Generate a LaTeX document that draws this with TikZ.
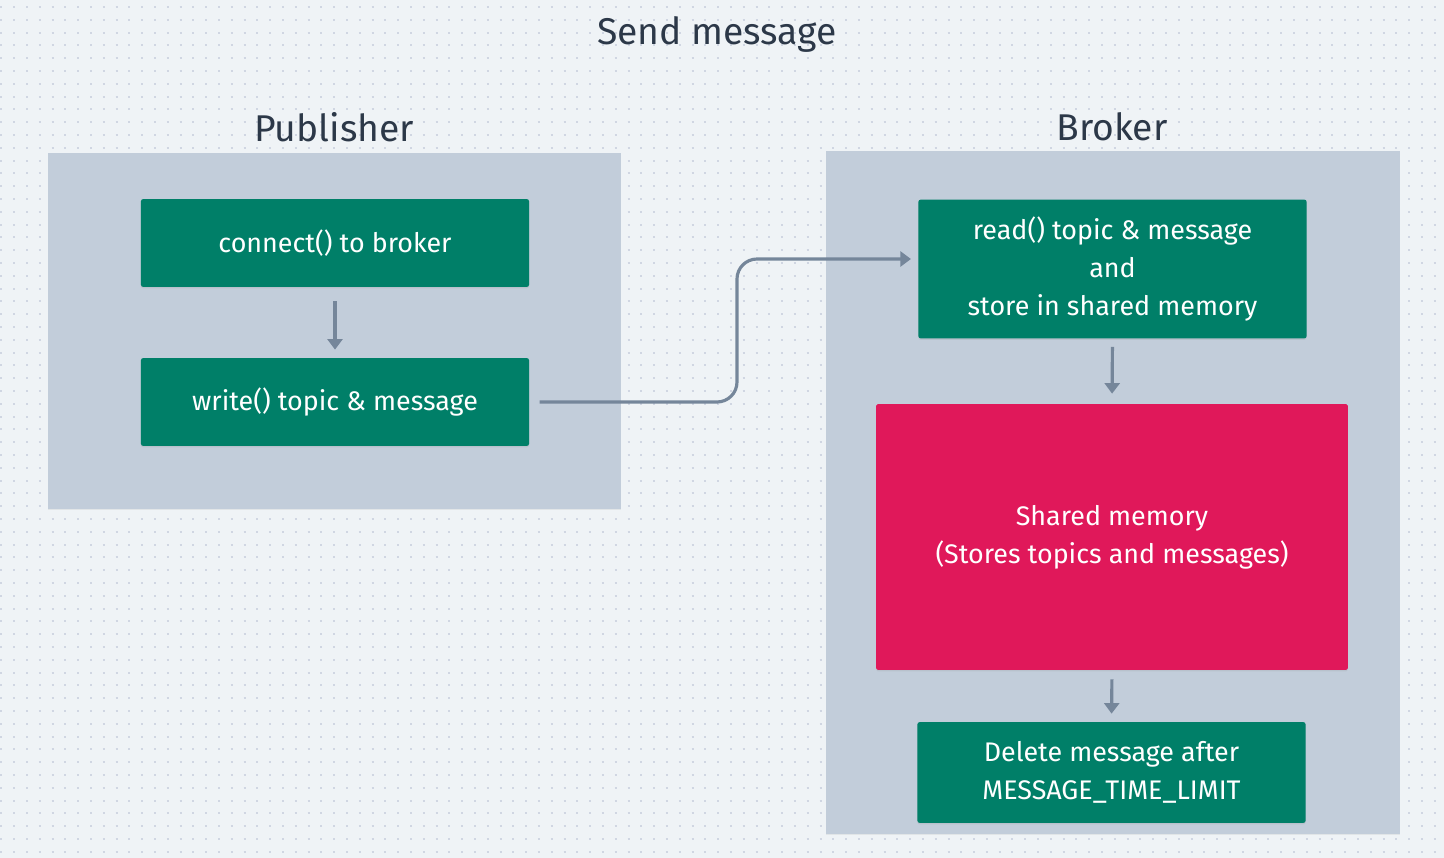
\documentclass[tikz,border=0pt]{standalone}
\usepackage{fontspec}
\setmainfont{Fira Sans}
\usepackage{tikz}
\usetikzlibrary{positioning, arrows.meta, shadows}

\definecolor{canvasbg}{HTML}{EFF3F6}
\definecolor{griddot}{HTML}{D0D6E2}
\definecolor{panelbg}{HTML}{C2CDDA}
\definecolor{stepgreen}{HTML}{007F68}
\definecolor{memred}{HTML}{E0185A}
\definecolor{linkgrey}{HTML}{75869A}
\definecolor{titletext}{HTML}{2C3848}

\begin{document}
\begin{tikzpicture}[x=0.02cm, y=-0.02cm,
    every node/.style={font=\fontsize{15.3}{21.5}\selectfont, align=center},
    panel/.style={fill=panelbg, minimum width=11.46cm, drop shadow={opacity=0.12, shadow xshift=0pt, shadow yshift=-0.5pt}},
    stepbox/.style={fill=stepgreen, text=white, rounded corners=1.5pt, minimum width=7.77cm, minimum height=1.76cm, drop shadow={opacity=0.15, shadow xshift=0pt, shadow yshift=-0.8pt}},
    membox/.style={fill=memred, text=white, rounded corners=1pt, minimum width=9.44cm, minimum height=5.32cm, drop shadow={opacity=0.15, shadow xshift=0pt, shadow yshift=-0.8pt}},
    heading/.style={text=titletext, font=\fontsize{21.2}{24}\selectfont},
    gridrow/.style={draw=griddot, line width=0.04cm, dash pattern=on 0.04cm off 0.216cm},
    link/.style={draw=linkgrey, line width=1.8pt, -{Triangle[width=8.5pt, length=6pt]}},
    >=Triangle]

    % Canvas with dotted grid
    \fill[canvasbg] (0,0) rectangle (1444,858);
    \useasboundingbox (0,0) rectangle (1444,858);
    \foreach \j in {0,...,66}
        \draw[gridrow] (0.5, 7+\j*12.8) -- (1444, 7+\j*12.8);

    % Title and column headings
    \node[heading] (title) at (717,35) {Send message};
    \node[heading] (pubhead) at (334,127) {Publisher};
    \node[heading] (brokerhead) at (1112,127) {Broker};

    % Panels
    \node[panel, minimum height=7.12cm] (pubpanel) at (334.5,331) {};
    \node[panel, minimum width=11.48cm, minimum height=13.66cm] (brokerpanel) at (1113,492.5) {};

    % Publisher steps
    \node[stepbox] (connect) at (335,243) {connect() to broker};
    \node[stepbox] (write) at (335,402) {write() topic \& message};

    % Broker steps
    \node[stepbox, minimum height=2.78cm] (read) at (1112.5,269) {read() topic \& message\\and\\store in shared memory};
    \node[membox] (shmem) at (1112,537) {Shared memory\\(Stores topics and messages)};
    \node[stepbox, minimum height=2.02cm] (delete) at (1111.5,772.5) {Delete message after\\MESSAGE\_TIME\_LIMIT};

    \coordinate (bend) at (737,330);

    % Arrows
    \draw[link, shorten <=0.28cm, shorten >=0.16cm] (connect.south) -- (write.north);
    \draw[link, shorten <=0.16cm, shorten >=0.2cm] (read.south) -- (shmem.north);
    \draw[link, shorten <=0.18cm, shorten >=0.16cm] (shmem.south) -- (delete.north);
    \draw[link, rounded corners=0.4cm, shorten <=0.2cm, shorten >=0.14cm] (write.east) -| (bend) |- ([yshift=0.2cm]read.west);

\end{tikzpicture}
\end{document}
